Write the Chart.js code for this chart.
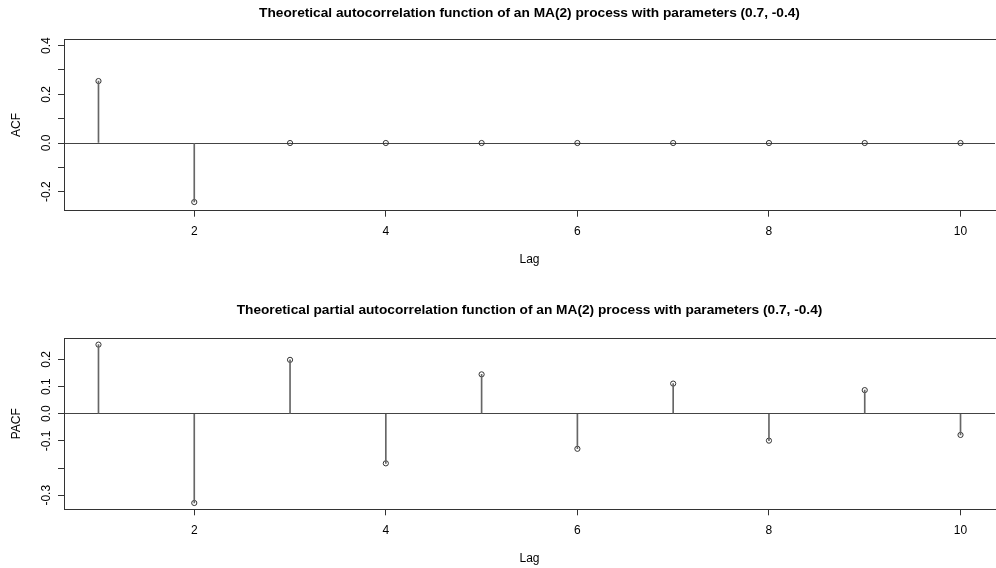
<!DOCTYPE html>
<html>
<head>
<meta charset="utf-8">
<script src="https://cdn.jsdelivr.net/npm/chart.js@4"></script>
<style>
  body { margin: 0; overflow: hidden; background: #fff; }
  .panel { position: relative; width: 1000px; height: 284px; }
</style>
</head>
<body>
<div class="panel"><canvas id="acf"></canvas></div>
<div class="panel"><canvas id="pacf"></canvas></div>
<script>
var lags = [1, 2, 3, 4, 5, 6, 7, 8, 9, 10];
var acfValues = [0.2545, -0.2424, 0, 0, 0, 0, 0, 0, 0, 0];
var pacfValues = [0.2545, -0.3285, 0.1984, -0.1826, 0.145, -0.129, 0.111, -0.099, 0.087, -0.078];
var lagTicks = [2, 4, 6, 8, 10];
var acfTicks = [-0.2, -0.1, 0, 0.1, 0.2, 0.3, 0.4];
var acfTickLabels = ['-0.2', '', '0.0', '', '0.2', '', '0.4'];
var pacfTicks = [-0.3, -0.2, -0.1, 0, 0.1, 0.2];
var pacfTickLabels = ['-0.3', '', '-0.1', '0.0', '0.1', '0.2'];

var FONT = "'Liberation Sans', Arial, Helvetica, sans-serif";

// y tick labels in R are turned 90 degrees, so draw them by hand on the y scale
var rotLabels = {
  id: 'rotLabels',
  afterDraw: function(chart, args, opts) {
    var s = chart.scales.y;
    var ctx = chart.ctx;
    ctx.save();
    ctx.font = '12px ' + FONT;
    ctx.fillStyle = '#000';
    ctx.textAlign = 'center';
    ctx.textBaseline = 'alphabetic';
    opts.values.forEach(function(v, i) {
      if (!opts.labels[i]) return;
      ctx.save();
      ctx.translate(50, s.getPixelForValue(v));
      ctx.rotate(-Math.PI / 2);
      ctx.fillText(opts.labels[i], 0, 0);
      ctx.restore();
    });
    ctx.restore();
  }
};

function makeChart(id, o) {
  var ctx = document.getElementById(id).getContext('2d');
  var pts = lags.map(function(l, i) { return {x: l, y: o.values[i]}; });
  return new Chart(ctx, {
    type: 'scatter',
    data: {
      datasets: [{
        type: 'bar',
        data: pts,
        backgroundColor: '#666',
        borderWidth: 0,
        barThickness: 1,
        grouped: false
      }, {
        type: 'scatter',
        data: pts,
        pointRadius: 2.6,
        pointBorderWidth: 1,
        pointBorderColor: '#333',
        pointBackgroundColor: 'rgba(0,0,0,0)'
      }]
    },
    options: {
      responsive: true,
      maintainAspectRatio: false,
      animation: false,
      devicePixelRatio: 1,
      layout: { padding: { left: 0, right: 2.4, top: 0, bottom: 0 } },
      plugins: {
        legend: { display: false },
        tooltip: { enabled: false },
        rotLabels: { values: o.ticks, labels: o.tickLabels }
      },
      scales: {
        x: {
          type: 'linear', position: 'bottom', min: 0.64, max: 10.36, offset: false,
          afterBuildTicks: function(s) { s.ticks = lagTicks.map(function(v) { return {value: v}; }); },
          afterFit: function(s) { s.height = o.xHeight; },
          grid: { drawOnChartArea: false, offset: false, tickLength: 6, tickColor: '#333' },
          border: { display: true, color: '#333' },
          ticks: { padding: 8, color: '#000', font: { family: FONT, size: 12 } },
          title: { display: true, text: 'Lag', color: '#000', font: { family: FONT, size: 12 },
                   padding: { top: 0, bottom: o.lagPad } }
        },
        x2: {
          type: 'linear', position: 'top', min: 0.64, max: 10.36, offset: false,
          afterFit: function(s) { s.height = o.topHeight; },
          grid: { display: false },
          border: { display: true, color: '#333' },
          ticks: { display: false },
          title: { display: true, text: o.title, color: '#000',
                   font: { family: FONT, size: 13.7, weight: 'bold' },
                   padding: { top: o.titlePad, bottom: 0 } }
        },
        y: {
          type: 'linear', position: 'left', min: o.min, max: o.max,
          afterBuildTicks: function(s) { s.ticks = o.ticks.map(function(v) { return {value: v}; }); },
          afterFit: function(s) { s.width = 64; },
          grid: {
            drawOnChartArea: true, drawTicks: true, tickLength: 6, tickColor: '#333',
            color: function(c) { return c.tick && c.tick.value === 0 ? '#444' : 'rgba(0,0,0,0)'; }
          },
          border: { display: true, color: '#333' },
          ticks: { display: false },
          title: { display: true, text: o.yTitle, color: '#000', font: { family: FONT, size: 12 },
                   padding: { top: 9.5, bottom: 0 } }
        }
      }
    },
    plugins: [rotLabels]
  });
}

makeChart('acf', {
  values: acfValues, ticks: acfTicks, tickLabels: acfTickLabels,
  min: -0.278, max: 0.426, yTitle: 'ACF',
  title: 'Theoretical autocorrelation function of an MA(2) process with parameters (0.7, -0.4)',
  topHeight: 39.3, titlePad: 4.8, xHeight: 73.3, lagPad: 16.8
});

makeChart('pacf', {
  values: pacfValues, ticks: pacfTicks, tickLabels: pacfTickLabels,
  min: -0.3518, max: 0.2778, yTitle: 'PACF',
  title: 'Theoretical partial autocorrelation function of an MA(2) process with parameters (0.7, -0.4)',
  topHeight: 54.3, titlePad: 18.5, xHeight: 58.7, lagPad: 1.8
});
</script>
</body>
</html>
